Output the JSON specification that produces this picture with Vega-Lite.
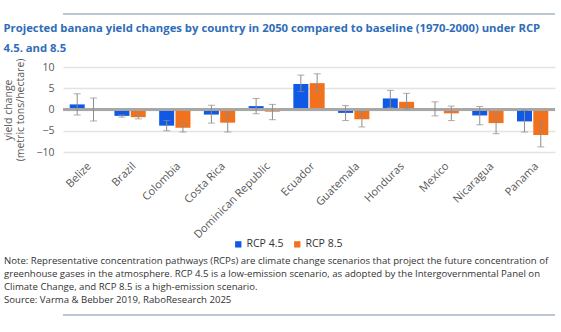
{
  "$schema": "https://vega.github.io/schema/vega-lite/v6.json",
  "padding": {"left": 3, "top": 12, "right": 4, "bottom": 5},
  "background": "white",
  "spacing": 6,
  "bounds": "full",
  "config": {
    "view": {"stroke": null},
    "font": "Open Sans",
    "axisY": {"tickCount": 5}
  },
  "vconcat": [
    {
      "width": 492,
      "height": 4,
      "data": {"values": [{"start": 0, "end": 1, "line": 0.5}]},
      "mark": {"type": "rule", "color": "#a5b4c4", "strokeWidth": 1.5},
      "encoding": {
        "x": {"field": "start", "type": "quantitative", "scale": {"domain": [0, 1]}, "axis": null},
        "x2": {"field": "end"},
        "y": {"field": "line", "type": "quantitative", "scale": {"domain": [0, 1]}, "axis": null}
      }
    },
    {
      "width": 492,
      "height": 85,
      "title": {
        "text": ["Projected banana yield changes by country in 2050 compared to baseline (1970-2000) under RCP", "4.5. and 8.5"],
        "anchor": "start",
        "frame": "bounds",
        "font": "Open Sans",
        "fontSize": 11.3,
        "fontWeight": "bold",
        "color": "#2f6db8",
        "lineHeight": 20,
        "offset": 4
      },
      "data": {
        "values": [
          {"country": "Belize", "scenario": "RCP 4.5", "value": 1.2, "lo": -1.3, "hi": 3.7},
          {"country": "Belize", "scenario": "RCP 8.5", "value": 0.2, "lo": -2.7, "hi": 2.7},
          {"country": "Brazil", "scenario": "RCP 4.5", "value": -1.5, "lo": -1.8, "hi": -1.3},
          {"country": "Brazil", "scenario": "RCP 8.5", "value": -1.8, "lo": -2.2, "hi": -1.5},
          {"country": "Colombia", "scenario": "RCP 4.5", "value": -3.8, "lo": -5.0, "hi": -2.6},
          {"country": "Colombia", "scenario": "RCP 8.5", "value": -4.3, "lo": -5.3, "hi": -3.3},
          {"country": "Costa Rica", "scenario": "RCP 4.5", "value": -1.2, "lo": -3.2, "hi": 1.0},
          {"country": "Costa Rica", "scenario": "RCP 8.5", "value": -3.1, "lo": -5.3, "hi": -1.0},
          {"country": "Dominican Republic", "scenario": "RCP 4.5", "value": 0.8, "lo": -1.0, "hi": 2.6},
          {"country": "Dominican Republic", "scenario": "RCP 8.5", "value": -0.5, "lo": -2.4, "hi": 1.2},
          {"country": "Ecuador", "scenario": "RCP 4.5", "value": 6.0, "lo": 4.2, "hi": 8.1},
          {"country": "Ecuador", "scenario": "RCP 8.5", "value": 6.2, "lo": 4.2, "hi": 8.4},
          {"country": "Guatemala", "scenario": "RCP 4.5", "value": -0.8, "lo": -2.6, "hi": 0.9},
          {"country": "Guatemala", "scenario": "RCP 8.5", "value": -2.3, "lo": -4.1, "hi": -0.5},
          {"country": "Honduras", "scenario": "RCP 4.5", "value": 2.6, "lo": 0.5, "hi": 4.5},
          {"country": "Honduras", "scenario": "RCP 8.5", "value": 1.8, "lo": 0.1, "hi": 3.8},
          {"country": "Mexico", "scenario": "RCP 4.5", "value": 0.1, "lo": -1.5, "hi": 1.8},
          {"country": "Mexico", "scenario": "RCP 8.5", "value": -0.9, "lo": -2.6, "hi": 0.8},
          {"country": "Nicaragua", "scenario": "RCP 4.5", "value": -1.4, "lo": -3.6, "hi": 0.7},
          {"country": "Nicaragua", "scenario": "RCP 8.5", "value": -3.2, "lo": -5.7, "hi": -1.0},
          {"country": "Panama", "scenario": "RCP 4.5", "value": -2.8, "lo": -5.3, "hi": -0.2},
          {"country": "Panama", "scenario": "RCP 8.5", "value": -6.0, "lo": -8.8, "hi": -2.9}
        ]
      },
      "encoding": {
        "x": {
          "field": "country",
          "type": "nominal",
          "sort": null,
          "scale": {"paddingInner": 0.3, "paddingOuter": 0.15},
          "axis": {
            "title": null,
            "labelAngle": -45,
            "labelFontSize": 11,
            "labelColor": "#595959",
            "domain": false,
            "ticks": false,
            "labelPadding": 8
          }
        },
        "xOffset": {"field": "scenario", "type": "nominal", "scale": {"paddingInner": 0.08}}
      },
      "layer": [
        {
          "mark": {"type": "bar"},
          "encoding": {
            "y": {
              "field": "value",
              "type": "quantitative",
              "scale": {"domain": [-10, 10]},
              "axis": {
                "values": [-10, -5, 0, 5, 10],
                "title": ["yield change", "(metric tons/hectare)"],
                "titleFontSize": 10.5,
                "titleFontWeight": "normal",
                "titleColor": "#595959",
                "titlePadding": 10,
                "labelFontSize": 10.5,
                "labelColor": "#595959",
                "labelPadding": 9,
                "domain": false,
                "ticks": false,
                "gridColor": "#e3e3e3",
                "gridWidth": 1.3
              }
            },
            "color": {
              "field": "scenario",
              "type": "nominal",
              "scale": {"domain": ["RCP 4.5", "RCP 8.5"], "range": ["#0f59e6", "#f2711c"]},
              "legend": {
                "orient": "none",
                "legendX": 170,
                "legendY": 172,
                "direction": "horizontal",
                "title": null,
                "symbolType": "square",
                "symbolSize": 40,
                "symbolStrokeWidth": 0,
                "labelFontSize": 10.5,
                "labelColor": "#333333",
                "labelOffset": 3,
                "columnPadding": 8
              }
            }
          }
        },
        {
          "mark": {"type": "rule", "color": "#a6a6a6", "strokeWidth": 1.3},
          "encoding": {"y": {"datum": 0}, "x": null, "xOffset": null}
        },
        {
          "mark": {"type": "rule", "color": "#8c8c8c", "strokeWidth": 1},
          "encoding": {
            "y": {"field": "lo", "type": "quantitative"},
            "y2": {"field": "hi"}
          }
        },
        {
          "mark": {"type": "tick", "color": "#8c8c8c", "size": 7, "thickness": 1, "orient": "horizontal"},
          "encoding": {"y": {"field": "lo", "type": "quantitative"}}
        },
        {
          "mark": {"type": "tick", "color": "#8c8c8c", "size": 7, "thickness": 1, "orient": "horizontal"},
          "encoding": {"y": {"field": "hi", "type": "quantitative"}}
        }
      ]
    },
    {
      "width": 492,
      "height": 4,
      "title": {
        "text": [
          "Note: Representative concentration pathways (RCPs) are climate change scenarios that project the future concentration of",
          "greenhouse gases in the atmosphere. RCP 4.5 is a low-emission scenario, as adopted by the Intergovernmental Panel on",
          "Climate Change, and RCP 8.5 is a high-emission scenario.",
          "Source: Varma & Bebber 2019, RaboResearch 2025"
        ],
        "anchor": "start",
        "frame": "group",
        "dx": -59,
        "dy": 12,
        "font": "Open Sans",
        "fontSize": 9.6,
        "fontWeight": "normal",
        "color": "#333333",
        "lineHeight": 13,
        "offset": 20
      },
      "data": {"values": [{"start": 0, "end": 1, "line": 0.5}]},
      "mark": {"type": "rule", "color": "#a5b4c4", "strokeWidth": 1.5},
      "encoding": {
        "x": {"field": "start", "type": "quantitative", "scale": {"domain": [0, 1]}, "axis": null},
        "x2": {"field": "end"},
        "y": {"field": "line", "type": "quantitative", "scale": {"domain": [0, 1]}, "axis": null}
      }
    }
  ],
  "resolve": {"legend": {"color": "independent"}}
}
